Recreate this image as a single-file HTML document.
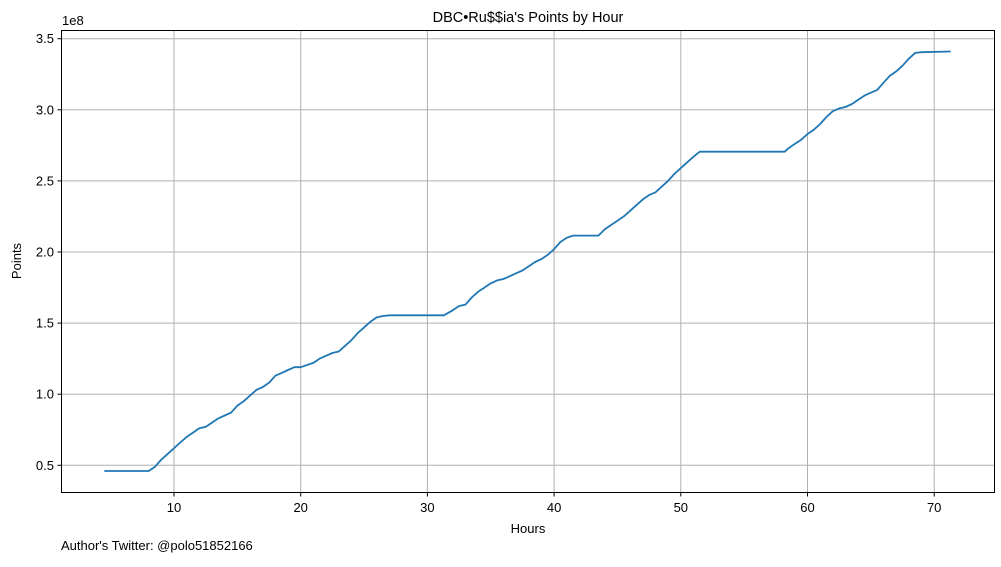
<!DOCTYPE html>
<html><head><meta charset="utf-8"><style>
body{margin:0;background:#fff;}
svg text{font-family:"Liberation Sans","DejaVu Sans",sans-serif;fill:#000;}
</style></head><body>
<svg id="chart" width="1001" height="562" viewBox="0 0 1001 562" xmlns="http://www.w3.org/2000/svg">
<g id="grid"></g>
<g id="axes"></g>
<path id="line" fill="none" stroke="#1f77b4" stroke-width="1.8" stroke-linejoin="round"/>
<rect x="61.5" y="30.5" width="933" height="462" fill="none" stroke="#000" stroke-width="1"/>
<text x="528" y="22" font-size="14.5" text-anchor="middle">DBC•Ru$$ia's Points by Hour</text>
<text x="528" y="533" font-size="13" text-anchor="middle">Hours</text>
<text x="21" y="261" font-size="13" text-anchor="middle" transform="rotate(-90 21 261)">Points</text>
<text x="62" y="25" font-size="13">1e8</text>
<text x="61" y="550" font-size="13">Author's Twitter: @polo51852166</text>
</svg>
<script>
const xTicks=[10,20,30,40,50,60,70];
const yTicks=[0.5,1.0,1.5,2.0,2.5,3.0,3.5];
const hours=[4.5,8,8.5,9,9.5,10,10.5,11,11.5,12,12.5,13,13.5,14,14.5,15,15.5,16,16.5,17,17.5,18,18.5,19,19.5,20,21,21.5,22,22.5,23,23.5,24,24.5,25,25.5,26,26.5,27,31.3,32,32.5,33,33.5,34,34.5,35,35.5,36,36.5,37,37.5,38,38.5,39,39.5,40,40.5,41,41.5,43.5,44,44.5,45,45.5,46,46.5,47,47.5,48,48.5,49,49.5,50,50.5,51,51.5,58.2,58.5,59,59.5,60,60.5,61,61.5,62,62.5,63,63.5,64,64.5,65,65.5,66,66.5,67,67.5,68,68.5,69,71.3];
const points=[0.46,0.46,0.49,0.54,0.58,0.62,0.66,0.70,0.73,0.76,0.77,0.80,0.83,0.85,0.87,0.92,0.95,0.99,1.03,1.05,1.08,1.13,1.15,1.17,1.19,1.19,1.22,1.25,1.27,1.29,1.30,1.34,1.38,1.43,1.47,1.51,1.54,1.55,1.555,1.555,1.59,1.62,1.63,1.68,1.72,1.75,1.78,1.80,1.81,1.83,1.85,1.87,1.90,1.93,1.95,1.98,2.02,2.07,2.10,2.115,2.115,2.16,2.19,2.22,2.25,2.29,2.33,2.37,2.40,2.42,2.46,2.50,2.55,2.59,2.63,2.67,2.705,2.705,2.73,2.76,2.79,2.83,2.86,2.90,2.95,2.99,3.01,3.02,3.04,3.07,3.10,3.12,3.14,3.19,3.24,3.27,3.31,3.36,3.40,3.405,3.41];
const X=h=>47.3+h*12.67;
const Y=v=>536.4-v*142.2;
const ns="http://www.w3.org/2000/svg";
const grid=document.getElementById('grid'),axes=document.getElementById('axes');
function mk(tag,attrs,parent){const e=document.createElementNS(ns,tag);for(const k in attrs)e.setAttribute(k,attrs[k]);parent.appendChild(e);return e;}
xTicks.forEach(t=>{const x=X(t);
const g=mk('line',{x1:x,x2:x,y1:30.5,y2:492.5,stroke:'#b0b0b0','stroke-width':1},grid);


const tk=mk('line',{x1:x,x2:x,y1:492.5,y2:496.5,stroke:'#000'},axes);


const tx=mk('text',{x:x,y:512,'font-size':13,'text-anchor':'middle'},axes);tx.textContent=t;


});
yTicks.forEach(t=>{const y=Y(t);
const g=mk('line',{x1:61.5,x2:994.5,y1:y,y2:y,stroke:'#b0b0b0','stroke-width':1},grid);


const tk=mk('line',{x1:57.5,x2:61.5,y1:y,y2:y,stroke:'#000'},axes);


const tx=mk('text',{x:54,y:y+4.5,'font-size':13,'text-anchor':'end'},axes);tx.textContent=t.toFixed(1);


});
document.getElementById('line').setAttribute('d',hours.map((h,i)=>(i?'L':'M')+X(h).toFixed(1)+' '+Y(points[i]).toFixed(1)).join(' '));
</script>
</body></html>
